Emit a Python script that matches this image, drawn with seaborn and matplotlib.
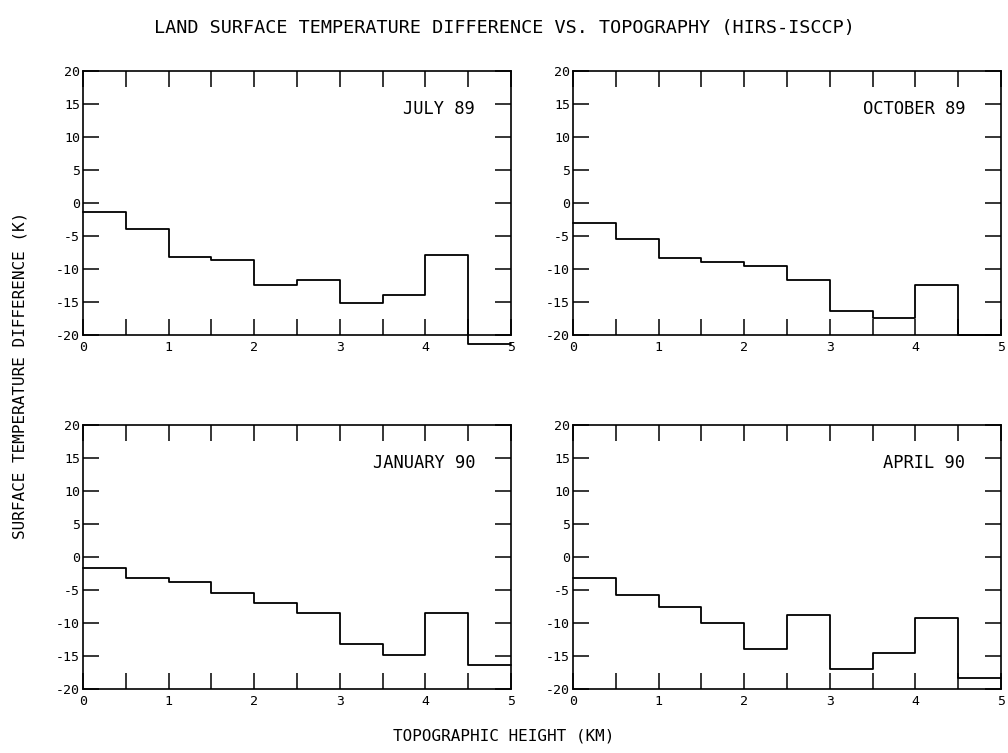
import numpy as np
import pandas as pd
import matplotlib
matplotlib.use("Agg")
import matplotlib.pyplot as plt
import seaborn as sns

# ---- data ----
bin_edges = [0.0, 0.5, 1.0, 1.5, 2.0, 2.5, 3.0, 3.5, 4.0, 4.5, 5.0]
july_89 = [-1.4, -4.0, -8.2, -8.7, -12.4, -11.6, -15.2, -14.0, -7.9, -21.3]
october_89 = [-3.0, -5.5, -8.4, -9.0, -9.6, -11.6, -16.4, -17.4, -12.4, -20.0]
january_90 = [-1.6, -3.2, -3.8, -5.5, -7.0, -8.5, -13.2, -14.8, -8.5, -16.3]
april_90 = [-3.2, -5.8, -7.5, -10.0, -14.0, -8.8, -17.0, -14.5, -9.3, -18.3]
panel_names = ["JULY 89", "OCTOBER 89", "JANUARY 90", "APRIL 90"]
x_tick_labels = ["0", "", "1", "", "2", "", "3", "", "4", "", "5"]
y_ticks = [-20, -15, -10, -5, 0, 5, 10, 15, 20]

sns.set_theme(style="ticks")
plt.rcParams["font.family"] = ["DejaVu Sans Mono", "DejaVu Sans"]
plt.rcParams["axes.linewidth"] = 1.2

fig = plt.figure(figsize=(10.08, 7.53), dpi=100)
W, H = 1008.0, 753.0
boxes = [(83, 71), (573, 71), (83, 425), (573, 425)]
aw, ah = 428.0, 264.0
series = [july_89, october_89, january_90, april_90]

for (lx, ty), vals, name in zip(boxes, series, panel_names):
    ax = fig.add_axes([lx / W, 1 - (ty + ah) / H, aw / W, ah / H])
    df = pd.DataFrame({"x": bin_edges, "y": vals + [vals[-1]]})
    sns.lineplot(data=df, x="x", y="y", ax=ax, color="black", lw=1.3,
                 drawstyle="steps-post", clip_on=False, estimator=None, sort=False)
    ax.set_xlim(0, 5)
    ax.set_ylim(-20, 20)
    ax.set_xticks(bin_edges)
    ax.set_xticklabels(x_tick_labels)
    ax.set_yticks(y_ticks)
    ax.set_yticklabels([str(v) for v in y_ticks])
    ax.tick_params(direction="in", length=11.5, width=1.1, top=True, right=True,
                   labelsize=9.5, pad=2, colors="black")
    ax.tick_params(axis="x", pad=4)
    for sp in ax.spines.values():
        sp.set_visible(True)
        sp.set_color("black")
    ax.set_xlabel("")
    ax.set_ylabel("")
    ax.text(4.58, 14.2, name, ha="right", va="center", fontsize=12.3, color="black")

fig.text(0.5, 1 - 28 / H, "LAND SURFACE TEMPERATURE DIFFERENCE VS. TOPOGRAPHY (HIRS-ISCCP)",
         ha="center", va="center", fontsize=13.3, color="black")
fig.text(0.5, 1 - 736 / H, "TOPOGRAPHIC HEIGHT (KM)", ha="center", va="center",
         fontsize=11.5, color="black")
fig.text(20 / W, 1 - 375 / H, "SURFACE TEMPERATURE DIFFERENCE (K)", ha="center", va="center",
         rotation=90, fontsize=11.5, color="black")

fig.savefig("out.png", dpi=100, facecolor="white")
